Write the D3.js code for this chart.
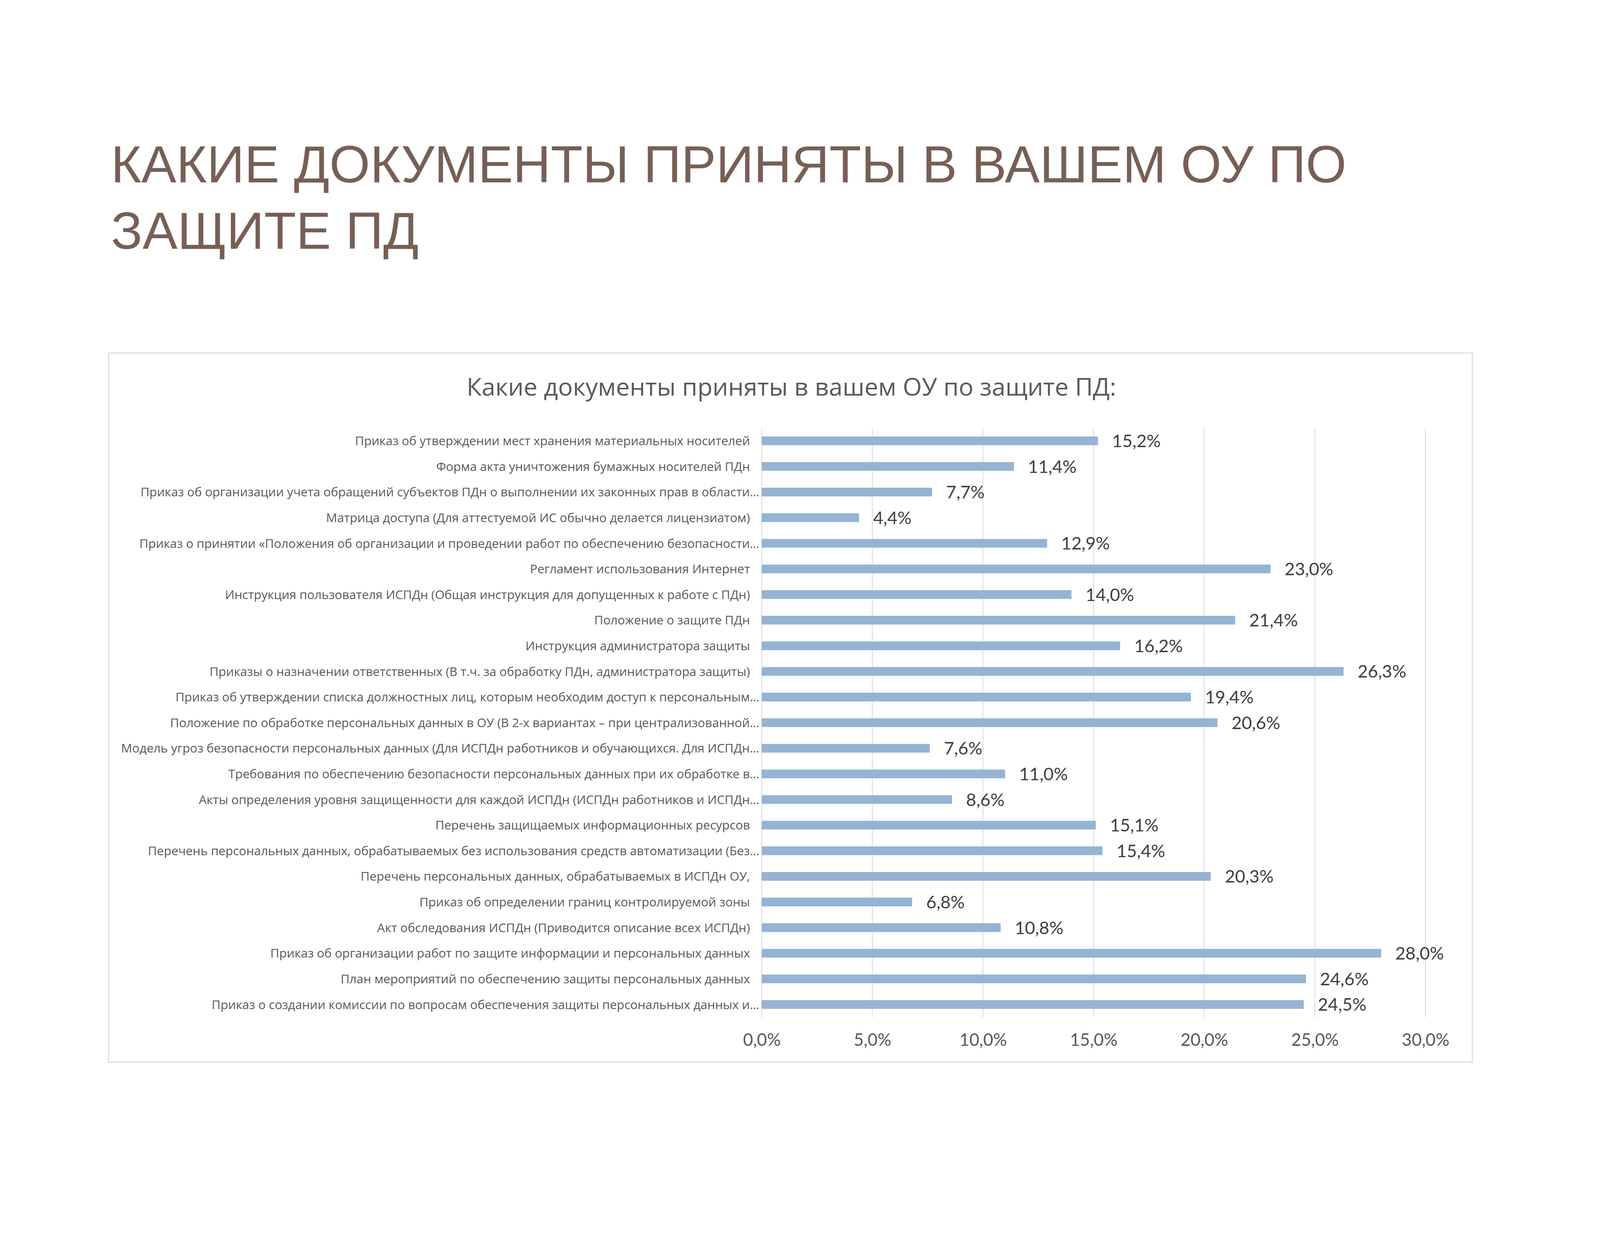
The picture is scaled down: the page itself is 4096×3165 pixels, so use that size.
<!DOCTYPE html>
<html>
<head>
<meta charset="utf-8">
<script src="https://cdn.jsdelivr.net/npm/d3@7"></script>
<style>
  html, body { margin: 0; padding: 0; background: #ffffff; }
  svg { display: block; }
</style>
</head>
<body>
<script>
// ---------- data ----------
const pageTitleLines = ["КАКИЕ ДОКУМЕНТЫ ПРИНЯТЫ В ВАШЕМ ОУ ПО", "ЗАЩИТЕ ПД"];
const chartTitle = "Какие документы приняты в вашем ОУ по защите ПД:";
const categories = [
  "Приказ об утверждении мест хранения материальных носителей",
  "Форма акта уничтожения бумажных носителей ПДн",
  "Приказ об организации учета обращений субъектов ПДн о выполнении их законных прав в области…",
  "Матрица доступа (Для аттестуемой ИС обычно делается лицензиатом)",
  "Приказ о принятии «Положения об организации и проведении работ по обеспечению безопасности…",
  "Регламент использования Интернет",
  "Инструкция пользователя ИСПДн (Общая инструкция для допущенных к работе с ПДн)",
  "Положение о защите ПДн",
  "Инструкция администратора защиты",
  "Приказы о назначении ответственных (В т.ч. за обработку ПДн, администратора защиты)",
  "Приказ об утверждении списка должностных лиц, которым необходим доступ к персональным…",
  "Положение по обработке персональных данных в ОУ (В 2-х вариантах – при централизованной…",
  "Модель угроз безопасности персональных данных (Для ИСПДн работников и обучающихся. Для ИСПДн…",
  "Требования по обеспечению безопасности персональных данных при их обработке в…",
  "Акты определения уровня защищенности для каждой ИСПДн (ИСПДн работников и ИСПДн…",
  "Перечень защищаемых информационных ресурсов",
  "Перечень персональных данных, обрабатываемых без использования средств автоматизации (Без…",
  "Перечень персональных данных, обрабатываемых в ИСПДн ОУ,",
  "Приказ об определении границ контролируемой зоны",
  "Акт обследования ИСПДн (Приводится описание всех ИСПДн)",
  "Приказ об организации работ по защите информации и персональных данных",
  "План мероприятий по обеспечению защиты персональных данных",
  "Приказ о создании комиссии по вопросам обеспечения защиты персональных данных и…"
];
const values = [15.2, 11.4, 7.7, 4.4, 12.9, 23.0, 14.0, 21.4, 16.2, 26.3, 19.4, 20.6, 7.6, 11.0, 8.6, 15.1, 15.4, 20.3, 6.8, 10.8, 28.0, 24.6, 24.5];
const xTicks = [0, 5, 10, 15, 20, 25, 30];

// ---------- layout ----------
const W = 4096, H = 3165;
const box = { x: 278, y: 904, w: 3491, h: 1816 };
const plot = { left: 1950, right: 3649, top: 1096, bottom: 2605 };

const svg = d3.select("body").append("svg")
  .attr("width", W).attr("height", H)
  .attr("viewBox", `0 0 ${W} ${H}`);

svg.append("rect").attr("width", W).attr("height", H).attr("fill", "#ffffff");

// page title
svg.append("g").selectAll("text").data(pageTitleLines).join("text")
  .attr("x", 284)
  .attr("y", (d, i) => 467 + i * 170)
  .attr("font-family", "'Liberation Sans', Arial, sans-serif")
  .attr("font-size", 134)
  .attr("fill", "#775F55")
  .text(d => d);

// chart frame
svg.append("rect")
  .attr("x", box.x).attr("y", box.y).attr("width", box.w).attr("height", box.h)
  .attr("fill", "#ffffff").attr("stroke", "#D9D9D9").attr("stroke-width", 2.5);

// chart title
svg.append("text")
  .attr("x", 2026).attr("y", 1013)
  .attr("text-anchor", "middle")
  .attr("font-family", "'Open Sans', 'Noto Sans', sans-serif")
  .attr("font-size", 63)
  .attr("fill", "#595959")
  .text(chartTitle);

// scales
const x = d3.scaleLinear().domain([0, 30]).range([plot.left, plot.right]);
const y = d3.scaleBand().domain(categories).range([plot.top, plot.bottom])
  .paddingInner(0.66).paddingOuter(0.33);

// gridlines
svg.append("g").selectAll("line").data(xTicks).join("line")
  .attr("x1", d => x(d)).attr("x2", d => x(d))
  .attr("y1", plot.top).attr("y2", plot.bottom)
  .attr("stroke", "#D9D9D9").attr("stroke-width", 2);

// x axis tick labels
const fmt = v => d3.format(".1f")(v).replace(".", ",") + "%";
const xAxis = d3.axisBottom(x).tickValues(xTicks).tickSize(0).tickPadding(0).tickFormat(fmt);
const gx = svg.append("g").attr("transform", `translate(0,${plot.bottom})`).call(xAxis);
gx.select(".domain").remove();
gx.selectAll("text")
  .attr("y", 73).attr("dy", null)
  .attr("font-family", "Lato, 'Open Sans', sans-serif")
  .attr("font-size", 44)
  .attr("fill", "#595959");

// bars
svg.append("g").selectAll("rect").data(values).join("rect")
  .attr("x", x(0))
  .attr("y", (d, i) => y(categories[i]))
  .attr("width", d => x(d) - x(0))
  .attr("height", y.bandwidth())
  .attr("fill", "#95B3D4");

// value labels
svg.append("g").selectAll("text").data(values).join("text")
  .attr("x", d => x(d) + 36)
  .attr("y", (d, i) => y(categories[i]) + y.bandwidth() / 2)
  .attr("dy", "0.36em")
  .attr("font-family", "Lato, 'Open Sans', sans-serif")
  .attr("font-size", 45)
  .attr("fill", "#404040")
  .text(d => fmt(d));

// category labels
svg.append("g").selectAll("text").data(categories).join("text")
  .attr("x", d => d.endsWith("…") ? x(0) - 6 : x(0) - 30)
  .attr("y", d => y(d) + y.bandwidth() / 2)
  .attr("dy", "0.36em")
  .attr("text-anchor", "end")
  .attr("font-family", "'Open Sans', 'Noto Sans', sans-serif")
  .attr("font-size", 31.5)
  .attr("fill", "#595959")
  .text(d => d);
</script>
</body>
</html>
